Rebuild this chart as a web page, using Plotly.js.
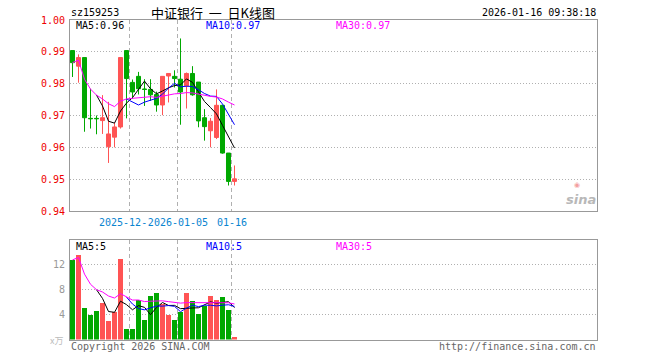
<!DOCTYPE html>
<html>
<head>
<meta charset="utf-8">
<script src="https://cdn.plot.ly/plotly-3.0.1.min.js"></script>
<style>html,body{margin:0;padding:0;background:#fff;}#chart{width:660px;height:360px;}</style>
</head>
<body>
<div id="chart"></div>
<script>
// ---- data ----
var dates = ["2025-12-08","2025-12-09","2025-12-10","2025-12-11","2025-12-12","2025-12-15","2025-12-16","2025-12-17","2025-12-18","2025-12-19",
             "2025-12-22","2025-12-23","2025-12-24","2025-12-25","2025-12-26","2025-12-29","2025-12-30","2025-12-31",
             "2026-01-05","2026-01-06","2026-01-07","2026-01-08","2026-01-09","2026-01-12","2026-01-13","2026-01-14","2026-01-15","2026-01-16"];
var openP  = [0.9904,0.9855,0.9882,0.9691,0.9691,0.9684,0.9602,0.9632,0.9664,0.9904,0.9804,0.9823,0.9783,0.9782,0.9766,0.9733,0.9824,0.9823,0.9814,0.9793,0.9832,0.9805,0.9693,0.9652,0.9631,0.9732,0.9582,0.9493];
var highP  = [0.9904,0.9892,0.9882,0.9784,0.9700,0.9764,0.9743,0.9678,0.9882,0.9904,0.9813,0.9837,0.9814,0.9814,0.9775,0.9823,0.9832,0.9842,0.9942,0.9835,0.9855,0.9805,0.9720,0.9692,0.9782,0.9732,0.9582,0.9543];
var lowP   = [0.9821,0.9803,0.9649,0.9659,0.9641,0.9642,0.9551,0.9600,0.9659,0.9691,0.9753,0.9766,0.9730,0.9746,0.9712,0.9701,0.9741,0.9788,0.9671,0.9722,0.9762,0.9663,0.9621,0.9600,0.9626,0.9580,0.9480,0.9480];
var closeP = [0.9866,0.9882,0.9693,0.9690,0.9690,0.9693,0.9642,0.9664,0.9882,0.9816,0.9774,0.9784,0.9782,0.9765,0.9733,0.9823,0.9832,0.9816,0.9774,0.9832,0.9765,0.9683,0.9665,0.9682,0.9732,0.9582,0.9493,0.9501];
var volume = [12.8,13.6,5.12,4.0,4.53,5.81,3.04,4.48,12.96,1.76,1.65,6.4,3.09,7.04,7.52,5.71,4.0,3.2,4.37,7.52,6.24,4.16,5.33,7.04,6.4,6.88,4.8,0.48];

// moving-average lines (they start where the line starts)
var ma5Price  = [0.9764,0.9730,0.9682,0.9676,0.9714,0.9739,0.9756,0.9784,0.9808,0.9784,0.9768,0.9777,0.9787,0.9794,0.9796,0.9815,0.9804,0.9774,0.9744,0.9725,0.9705,0.9669,0.9631,0.9598];
var ma10Price = [0.9752,0.9743,0.9733,0.9742,0.9749,0.9754,0.9767,0.9786,0.9801,0.9790,0.9792,0.9791,0.9781,0.9769,0.9761,0.9760,0.9736,0.9702,0.9671];
var ma30Price = [0.9866,0.9874,0.9814,0.9783,0.9764,0.9752,0.9737,0.9728,0.9745,0.9752,0.9754,0.9756,0.9758,0.9759,0.9757,0.9761,0.9765,0.9768,0.9769,0.9772,0.9771,0.9767,0.9763,0.9760,0.9758,0.9752,0.9742,0.9733];
var ma5Vol  = [8.01,6.61,4.50,4.37,6.16,5.61,4.78,5.45,5.17,3.99,5.14,5.95,5.47,5.49,4.96,4.96,5.07,5.10,5.52,6.06,5.83,5.96,6.09,5.12];
var ma10Vol = [6.81,5.70,4.98,4.77,5.08,5.38,5.37,5.46,5.33,4.47,5.05,5.51,5.29,5.51,5.51,5.40,5.51,5.59,5.32];
var ma30Vol = [12.8,13.2,10.51,8.88,8.01,7.64,6.99,6.67,7.37,6.81,6.34,6.35,6.10,6.16,6.25,6.22,6.09,5.93,5.85,5.93,5.94,5.86,5.84,5.89,5.91,5.95,5.91,5.71];

var priceTicks = [0.94,0.95,0.96,0.97,0.98,0.99,1.00];
var priceTickText = ["0.94","0.95","0.96","0.97","0.98","0.99","1.00"];
var volTicks = [4,8,12];
var volTickText = ["4","8","12"];
var dateTickIdx = [10,18,27];
var dateTickText = ["","2026-01-05","01-16"];
var firstDateStub = "2025-12-";   // the reference shows this label half covered by the next one

// ---- build ----
var RED = "#ff5454", GREEN = "#00a800";
var idx = dates.map(function(d,i){return i;});
function range(a,b){var r=[];for(var i=a;i<=b;i++)r.push(i);return r;}
var divPos = dateTickIdx.map(function(i){return i-0.42;});
var volColors = idx.map(function(i){return closeP[i] >= openP[i] ? RED : GREEN;});

var traces = [
  {type:"candlestick", x:idx, open:openP, high:highP, low:lowP, close:closeP, xaxis:"x", yaxis:"y",
   increasing:{line:{color:RED,width:1},fillcolor:RED},
   decreasing:{line:{color:GREEN,width:1},fillcolor:GREEN},
   whiskerwidth:0, hoverinfo:"skip"},
  {type:"scatter", mode:"lines", x:range(4,27), y:ma5Price, line:{color:"#000",width:1}, xaxis:"x", yaxis:"y", hoverinfo:"skip"},
  {type:"scatter", mode:"lines", x:range(9,27), y:ma10Price, line:{color:"#0000ff",width:1}, xaxis:"x", yaxis:"y", hoverinfo:"skip"},
  {type:"scatter", mode:"lines", x:range(0,27), y:ma30Price, line:{color:"#ff00ff",width:1}, xaxis:"x", yaxis:"y", hoverinfo:"skip"},
  {type:"bar", x:idx, y:volume, width:0.83, marker:{color:volColors,line:{width:0}}, xaxis:"x2", yaxis:"y2", hoverinfo:"skip"},
  {type:"scatter", mode:"lines", x:range(4,27), y:ma5Vol, line:{color:"#000",width:1}, xaxis:"x2", yaxis:"y2", hoverinfo:"skip"},
  {type:"scatter", mode:"lines", x:range(9,27), y:ma10Vol, line:{color:"#0000ff",width:1}, xaxis:"x2", yaxis:"y2", hoverinfo:"skip"},
  {type:"scatter", mode:"lines", x:range(0,27), y:ma30Vol, line:{color:"#ff00ff",width:1}, xaxis:"x2", yaxis:"y2", hoverinfo:"skip"}
];

var W = 660, H = 360;
function px(x){return x/W;}
function py(y){return 1 - y/H;}
var xr = [-0.417, 87.42];
var mono = "DejaVu Sans Mono, Liberation Mono, monospace";

function ann(text,x,y,xa,color,size,fam){
  return {text:text, x:px(x), y:py(y), xref:"paper", yref:"paper", xanchor:xa, yanchor:"middle",
          showarrow:false, font:{family:fam||mono, size:size||10, color:color||"#000"}, borderpad:0};
}

var layout = {
  width:W, height:H, margin:{l:0,r:0,t:0,b:0}, paper_bgcolor:"#fff", plot_bgcolor:"#fff",
  showlegend:false, font:{family:mono, size:10},
  boxgap:0.33, boxgroupgap:0, bargap:0,
  title:{text:"中证银行\u00a0\u00a0一\u00a0\u00a0日K线图", x:px(213), xanchor:"center", y:py(13), yanchor:"middle",
         font:{family:"Noto Sans CJK SC", size:13, color:"#000"}},
  xaxis:{domain:[px(70),px(597)], range:xr, anchor:"y", rangeslider:{visible:false},
         tickmode:"array", tickvals:divPos, ticktext:dateTickText, tickangle:0, ticks:"",
         tickfont:{family:mono,size:10,color:"#0a84d0"}, ticklabelstandoff:2,
         showgrid:true, gridcolor:"#b0b0b0", griddash:"4px,3px", gridwidth:1,
         showline:true, mirror:true, linecolor:"#999", linewidth:1, zeroline:false, fixedrange:true},
  yaxis:{domain:[py(211),py(20)], range:[0.94,1.00], anchor:"x",
         tickmode:"array", tickvals:priceTicks, ticktext:priceTickText, ticks:"",
         tickfont:{family:mono,size:10,color:"#ee0000"}, ticklabelstandoff:2,
         showgrid:true, gridcolor:"#b0b0b0", griddash:"1px,2px", gridwidth:1,
         showline:true, mirror:true, linecolor:"#999", linewidth:1, zeroline:false, fixedrange:true},
  xaxis2:{domain:[px(70),px(597)], range:xr, anchor:"y2",
         tickmode:"array", tickvals:divPos, showticklabels:false, ticks:"",
         showgrid:true, gridcolor:"#b0b0b0", griddash:"4px,3px", gridwidth:1,
         showline:true, mirror:true, linecolor:"#999", linewidth:1, zeroline:false, fixedrange:true},
  yaxis2:{domain:[py(339.5),py(240)], range:[0,16], anchor:"x2",
         tickmode:"array", tickvals:volTicks, ticktext:volTickText, ticks:"",
         tickfont:{family:mono,size:10,color:"#999"}, ticklabelstandoff:2,
         showgrid:true, gridcolor:"#b0b0b0", griddash:"1px,2px", gridwidth:1,
         showline:true, mirror:true, linecolor:"#999", linewidth:1, zeroline:false, fixedrange:true},
  annotations:[
    ann("sz159253",70,13,"left"),
    ann("2026-01-16 09:38:18",597,13,"right"),
    ann("MA5:0.96",75,26,"left","#000"),
    ann("MA10:0.97",205,26,"left","#0000ff"),
    ann("MA30:0.97",335,26,"left","#ff00ff"),
    ann("MA5:5",75,246,"left","#000"),
    ann("MA10:5",205,246,"left","#0000ff"),
    ann("MA30:5",335,246,"left","#ff00ff"),
    ann(firstDateStub,147.5,222,"right","#0a84d0"),
    ann("Copyright 2026 SINA.COM",70,346,"left","#666"),
    ann("http://finance.sina.com.cn",597,346,"right","#666"),
    ann("x万",64,340,"right","#bbb",9,"Noto Sans CJK SC"),
    {text:"<b><i>sina</i></b>", x:px(597), y:py(199), xref:"paper", yref:"paper", xanchor:"right", yanchor:"middle",
     showarrow:false, font:{family:"DejaVu Sans", size:13, color:"#b8b8b8"}, borderpad:0},
    {text:"◉", x:px(577), y:py(185), xref:"paper", yref:"paper", xanchor:"center", yanchor:"middle",
     showarrow:false, font:{family:"DejaVu Sans", size:7, color:"#f3a0a0"}, borderpad:0}
  ]
};

Plotly.newPlot("chart", traces, layout, {staticPlot:true, displayModeBar:false});
</script>
</body>
</html>
